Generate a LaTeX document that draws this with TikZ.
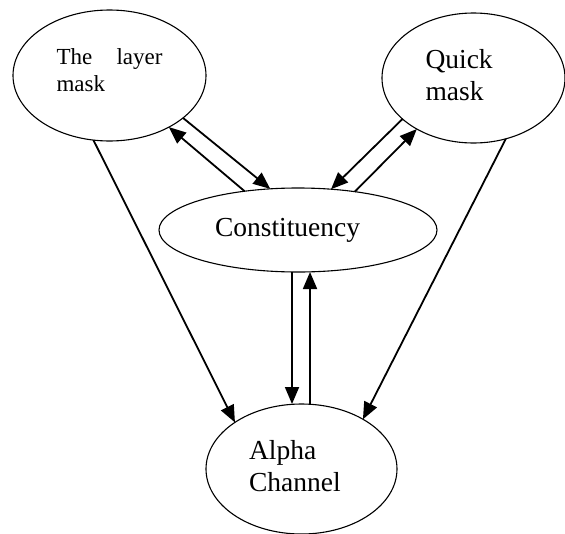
\documentclass[tikz,border=0pt]{standalone}
\usepackage{fontspec}
\setmainfont{Liberation Serif}
\usetikzlibrary{arrows.meta,shapes.geometric}

\begin{document}
\begin{tikzpicture}[x=1pt,y=-1pt,
					bubble/.style={ellipse,draw,line width=1.1pt,inner sep=0pt,outer sep=0pt},
					big text/.style={font=\fontsize{27.5}{31.5}\selectfont},
					link/.style={line width=1.8pt,-{Triangle[length=17pt,width=14pt]}}]
	\useasboundingbox (0,0) rectangle (565,533);
	\node[bubble,minimum width=193pt,minimum height=131pt,
		text width=106pt,align=justify,text height=16pt,text depth=39pt,
		font=\fontsize{23}{27}\selectfont] (layer) at (109.5,75.5) {The layer mask};
	\node[bubble,big text,minimum width=183pt,minimum height=130pt,
		text width=96pt,align=left,text height=19pt,text depth=38pt] (quick) at (473.5,78) {Quick mask};
	\node[bubble,big text,minimum width=278pt,minimum height=84pt,
		text width=166pt,align=left] (constituency) at (298,230) {Constituency};
	\node[bubble,big text,minimum width=191pt,minimum height=130pt,
		text width=105pt,align=left,text height=19pt,text depth=38pt] (alpha) at (301.5,469) {Alpha Channel};
	% pairs to and from the middle
	\draw[link] (layer.-30) -- (constituency.124);
	\draw[link] (constituency.144) -- (layer.-41);
	\draw[link] (quick.210) -- (constituency.51);
	\draw[link] (constituency.34) -- (quick.-138);
	\draw[link] ([xshift=-6pt]constituency.south) -- ([xshift=-9.5pt]alpha.north);
	\draw[link] ([xshift=8.5pt]alpha.north) -- ([xshift=12pt]constituency.south);
	% long ones down to the channel
	\draw[link] (layer.256) -- (alpha.145);
	\draw[link] (quick.-62) -- (alpha.39);
\end{tikzpicture}
\end{document}
